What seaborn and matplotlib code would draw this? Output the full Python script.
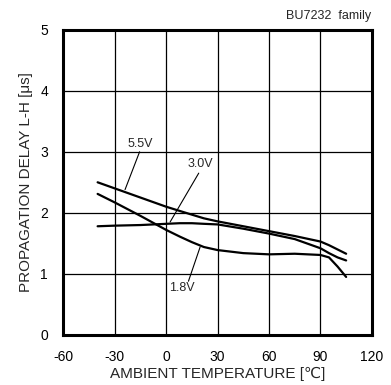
import matplotlib
matplotlib.use('Agg')
import matplotlib.pyplot as plt
import seaborn as sns
import pandas as pd

temps = [-40, -30, -15, 0, 8, 15, 22, 30, 45, 60, 75, 90, 95, 100, 105]
delay_55 = [2.50, 2.40, 2.25, 2.10, 2.03, 1.97, 1.91, 1.86, 1.78, 1.70, 1.62, 1.53, 1.47, 1.40, 1.33]
delay_30 = [1.78, 1.79, 1.80, 1.82, 1.83, 1.83, 1.82, 1.81, 1.74, 1.66, 1.57, 1.42, 1.34, 1.27, 1.22]
delay_18 = [2.31, 2.17, 1.95, 1.72, 1.61, 1.52, 1.44, 1.39, 1.34, 1.32, 1.33, 1.31, 1.27, 1.12, 0.95]
x_ticks = [-60, -30, 0, 30, 60, 90, 120]
y_ticks = [0, 1, 2, 3, 4, 5]

df = pd.DataFrame({
    'temp': temps * 3,
    'delay': delay_55 + delay_30 + delay_18,
    'vdd': ['5.5V'] * len(temps) + ['3.0V'] * len(temps) + ['1.8V'] * len(temps),
})

sns.set_style('white')
plt.rcParams['font.family'] = ['Liberation Sans', 'DejaVu Sans']
plt.rcParams['axes.unicode_minus'] = False

fig = plt.figure(figsize=(3.91, 3.85), dpi=100)
ax = fig.add_axes([0.162, 0.130, 0.789, 0.793])

sns.lineplot(data=df, x='temp', y='delay', units='vdd', estimator=None,
             color='black', linewidth=1.6, ax=ax, legend=False)

ax.set_xlim(-60, 120)
ax.set_ylim(0, 5)
ax.set_xticks(x_ticks)
ax.set_yticks(y_ticks)
ax.grid(True, color='black', linewidth=0.9)
for s in ax.spines.values():
    s.set_visible(True)
    s.set_color('black')
    s.set_linewidth(2.2)
ax.tick_params(direction='in', length=4, width=1.5, labelsize=10, colors='black')
ax.tick_params(axis='y', pad=11)
ax.tick_params(axis='x', pad=11)
ax.set_xlabel('AMBIENT TEMPERATURE [\u2103]', fontsize=11, labelpad=2)
ax.set_ylabel('PROPAGATION DELAY L-H [\u03bcs]', fontsize=11, labelpad=5)

# curve labels with leaders
ax.text(-15, 3.03, '5.5V', fontsize=9, ha='center', va='bottom')
ax.plot([-15.5, -24], [3.0, 2.38], color='black', linewidth=0.8)
ax.text(20, 2.70, '3.0V', fontsize=9, ha='center', va='bottom')
ax.plot([19, 2.3], [2.65, 1.85], color='black', linewidth=0.8)
ax.text(9, 0.86, '1.8V', fontsize=9, ha='center', va='top')
ax.plot([13, 19.8], [0.88, 1.44], color='black', linewidth=0.8)

fig.text(0.948, 0.959, 'BU7232  family', fontsize=9, ha='right', va='center')

fig.savefig('out.png', dpi=100)
